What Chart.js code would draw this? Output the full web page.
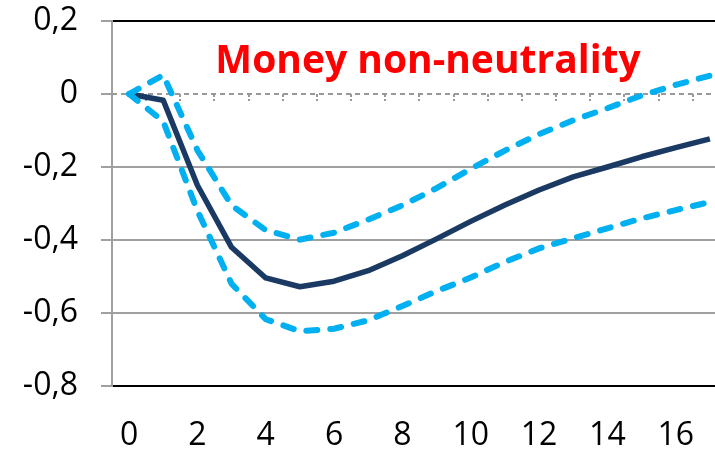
<!DOCTYPE html>
<html>
<head>
<meta charset="utf-8">
<script src="https://cdn.jsdelivr.net/npm/chart.js@4.4.1/dist/chart.umd.min.js"></script>
<style>
  html, body { margin: 0; padding: 0; background: #fff; }
  #wrap { width: 715px; height: 452px; }
</style>
</head>
<body>
<div id="wrap"><canvas id="irfChart" width="715" height="452"></canvas></div>
<script>
// horizon (quarters)
const periods = [0, 1, 2, 3, 4, 5, 6, 7, 8, 9, 10, 11, 12, 13, 14, 15, 16, 17];
// point estimate
const irf = [0, -0.017, -0.25, -0.42, -0.504, -0.528, -0.513, -0.484, -0.443, -0.397, -0.349, -0.304, -0.263, -0.227, -0.2, -0.172, -0.147, -0.123];
// confidence bands
const upperBand = [0, 0.052, -0.154, -0.305, -0.373, -0.399, -0.38, -0.344, -0.305, -0.258, -0.205, -0.155, -0.11, -0.072, -0.039, -0.004, 0.025, 0.05];
const lowerBand = [0, -0.075, -0.32, -0.52, -0.617, -0.65, -0.643, -0.62, -0.581, -0.54, -0.503, -0.46, -0.423, -0.395, -0.368, -0.341, -0.318, -0.296];
const xTickValues = [0, 2, 4, 6, 8, 10, 12, 14, 16];
const chartTitle = 'Money non-neutrality';

const toPoints = (arr) => arr.map((v, i) => ({ x: periods[i], y: v }));
const fmtComma = (v) => {
  const r = Math.round(v * 10) / 10;
  return r === 0 ? '0' : String(r).replace('.', ',');
};

// dashed zero line with small tick marks between periods (Excel style axis crossing)
const zeroLinePlugin = {
  id: 'zeroLine',
  beforeDatasetsDraw(chart) {
    const { ctx, chartArea, scales } = chart;
    const y0 = Math.round(scales.y.getPixelForValue(0));
    ctx.save();
    ctx.strokeStyle = '#999999';
    ctx.lineWidth = 2;
    ctx.setLineDash([5, 4]);
    ctx.beginPath();
    ctx.moveTo(chartArea.left, y0);
    ctx.lineTo(chartArea.right, y0);
    ctx.stroke();
    ctx.setLineDash([3, 2]);
    periods.slice(0, 17).forEach((p) => {
      const x = Math.round(scales.x.getPixelForValue(p + 0.5));
      ctx.beginPath();
      ctx.moveTo(x, y0);
      ctx.lineTo(x, y0 + 7);
      ctx.stroke();
    });
    ctx.restore();
  }
};

// title drawn inside the plot area
const titlePlugin = {
  id: 'insideTitle',
  afterDatasetsDraw(chart) {
    const { ctx, chartArea } = chart;
    ctx.save();
    ctx.font = 'bold 39px "Open Sans"';
    ctx.fillStyle = '#ff0000';
    ctx.textAlign = 'center';
    ctx.textBaseline = 'alphabetic';
    ctx.fillText(chartTitle, chartArea.left + 316, chartArea.top + 52);
    ctx.restore();
  }
};

const bandStyle = {
  borderColor: '#00b0f0',
  borderWidth: 6,
  borderDash: [11, 13],
  borderCapStyle: 'round',
  pointRadius: 0,
  tension: 0,
  fill: false
};

new Chart(document.getElementById('irfChart'), {
  type: 'line',
  data: {
    datasets: [
      Object.assign({ label: 'upper', data: toPoints(upperBand) }, bandStyle),
      Object.assign({ label: 'lower', data: toPoints(lowerBand) }, bandStyle),
      {
        label: 'irf',
        data: toPoints(irf),
        borderColor: '#1b3a63',
        borderWidth: 5.5,
        borderJoinStyle: 'round',
        pointRadius: 0,
        tension: 0,
        fill: false
      }
    ]
  },
  options: {
    responsive: false,
    animation: false,
    layout: { autoPadding: false, padding: { top: 21, right: 0, left: 0, bottom: 0 } },
    plugins: { legend: { display: false }, tooltip: { enabled: false } },
    scales: {
      x: {
        type: 'linear',
        min: -0.5,
        max: 17.15,
        afterBuildTicks: (scale) => { scale.ticks = xTickValues.map(v => ({ value: v })); },
        afterFit: (scale) => {
          scale.height = 66;
          scale.paddingLeft = 0;
          scale.paddingRight = 0;
        },
        grid: { display: false, drawTicks: false },
        border: { display: true, color: '#000', width: 2 },
        ticks: {
          color: '#000',
          padding: 31,
          font: { family: '"Open Sans"', size: 32 },
          callback: (v) => String(v)
        }
      },
      y: {
        min: -0.8,
        max: 0.2,
        afterFit: (scale) => {
          scale.width = 112;
          scale.paddingTop = 0;
          scale.paddingBottom = 0;
        },
        ticks: {
          stepSize: 0.2,
          color: '#000',
          padding: 23,
          font: { family: '"Open Sans"', size: 32 },
          callback: (v) => fmtComma(v)
        },
        grid: {
          tickLength: 11,
          tickColor: '#a0a0a0',
          lineWidth: 2,
          color: (c) => {
            const v = Math.round(c.tick.value * 10) / 10;
            if (v === 0) return 'rgba(0,0,0,0)';
            if (v === 0.2 || v === -0.8) return '#000';
            return '#a0a0a0';
          }
        },
        border: { display: true, color: '#a0a0a0', width: 2 }
      }
    }
  },
  plugins: [zeroLinePlugin, titlePlugin]
});
</script>
</body>
</html>
